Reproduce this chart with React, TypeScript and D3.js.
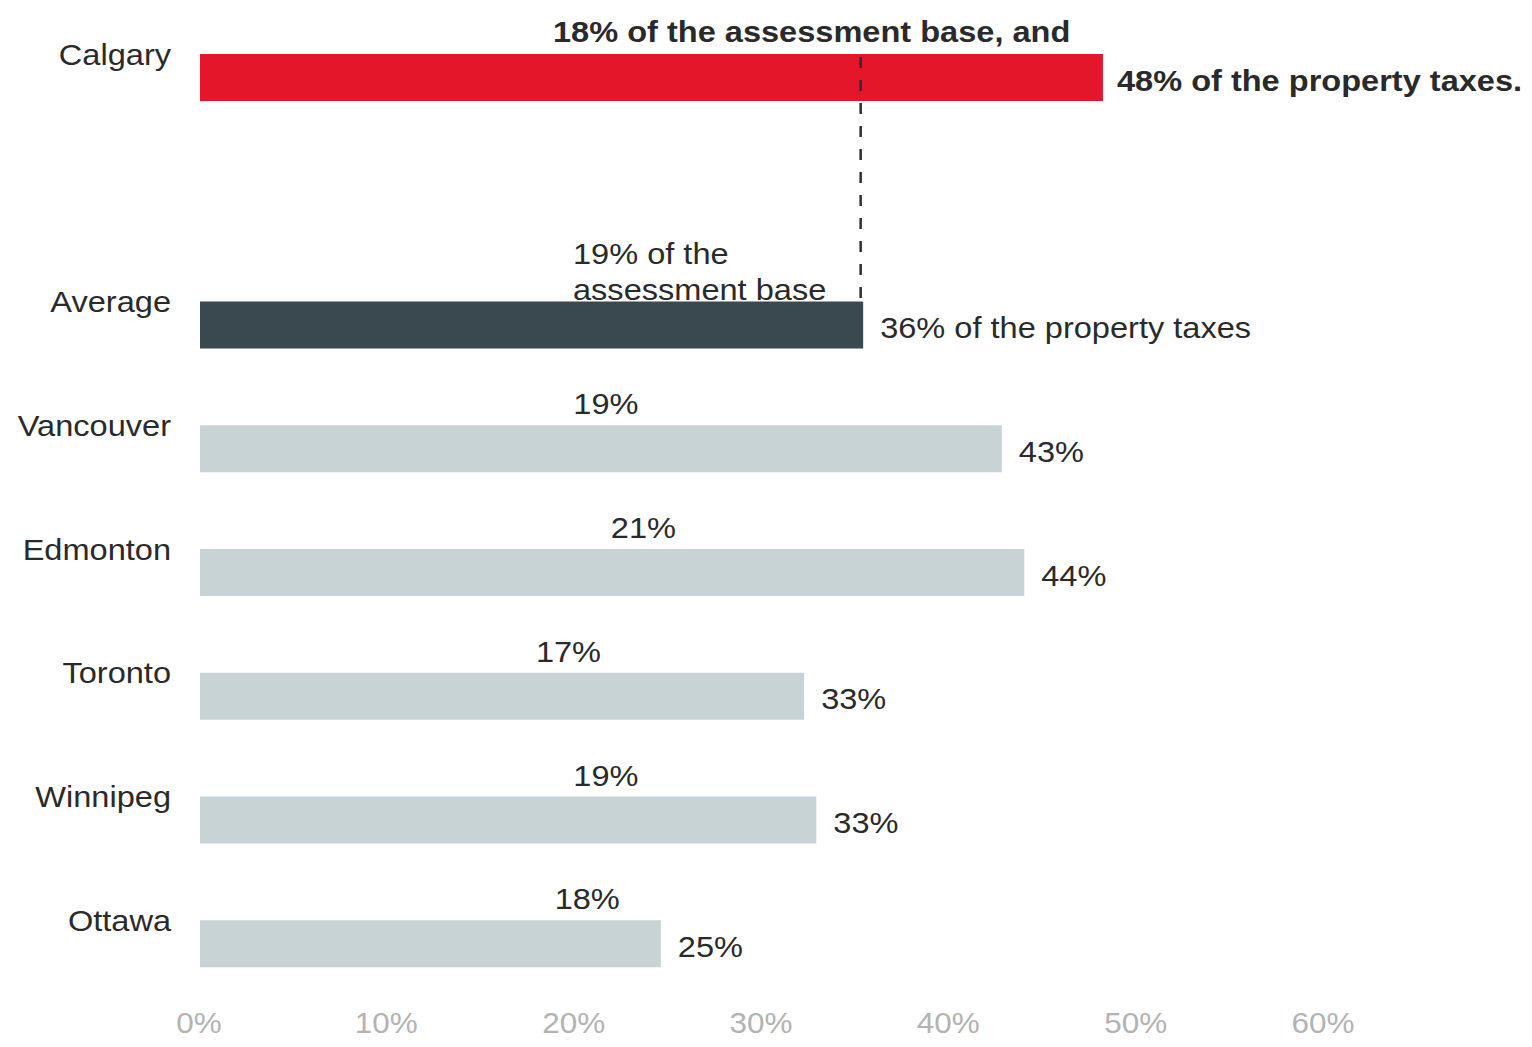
import React from "react";
import * as d3 from "d3";

const slots = ["Calgary", "__gap", "Average", "Vancouver", "Edmonton", "Toronto", "Winnipeg", "Ottawa"];
const cities = ["Calgary", "Average", "Vancouver", "Edmonton", "Toronto", "Winnipeg", "Ottawa"];
const taxShare = [48.2, 35.4, 42.8, 44.0, 32.25, 32.9, 24.6];
const taxLabels = ["48%", "36%", "43%", "44%", "33%", "33%", "25%"];
const baseShare = [18, 19, 19, 21, 17, 19, 18];
const baseLabels = ["18%", "19%", "19%", "21%", "17%", "19%", "18%"];
const xTicks = [0, 10, 20, 30, 40, 50, 60];

const W = 1532;
const H = 1047;
const FONT = "'Liberation Sans', Arial, sans-serif";
const TEXT = "#2a2a2a";
const SX = 1.085;

type TProps = {
  x: number;
  y: number;
  anchor?: "start" | "middle" | "end";
  size?: number;
  bold?: boolean;
  fill?: string;
  children: React.ReactNode;
};

function T({ x, y, anchor = "start", size = 30, bold = false, fill = TEXT, children }: TProps) {
  return (
    <text
      transform={`translate(${x},${y}) scale(${SX},1)`}
      textAnchor={anchor}
      fontSize={size}
      fontWeight={bold ? "bold" : "normal"}
      fill={fill}
    >
      {children}
    </text>
  );
}

export default function App() {
  const x = d3.scaleLinear().domain([0, 60]).range([200, 1324]);
  const step = 123.75;
  const y = d3
    .scaleBand<string>()
    .domain(slots)
    .paddingInner(0.62)
    .paddingOuter(0)
    .range([54, 54 + step * (slots.length - 0.62)]);
  const bw = y.bandwidth();

  const color = (c: string) => (c === "Calgary" ? "#E3162A" : c === "Average" ? "#3A4950" : "#C8D3D6");

  const calTop = y("Calgary")!;
  const avgTop = y("Average")!;
  const avgIdx = cities.indexOf("Average");
  const calIdx = cities.indexOf("Calgary");

  return (
    <svg width={W} height={H} style={{ position: "absolute", left: 0, top: 0, background: "#fff" }} fontFamily={FONT}>
      {cities.map((c, i) => {
        const top = y(c)!;
        return (
          <g key={c}>
            <rect x={x(0)} y={top} width={x(taxShare[i]) - x(0)} height={bw} fill={color(c)} />
            <T x={171} y={top + 10.5} anchor="end">
              {c}
            </T>
          </g>
        );
      })}

      {/* dashed reference line at the average */}
      <line
        x1={x(taxShare[avgIdx]) - 2.5}
        x2={x(taxShare[avgIdx]) - 2.5}
        y1={calTop + 3}
        y2={avgTop}
        stroke="#2e2e2e"
        strokeWidth={2.5}
        strokeDasharray="11 12"
      />

      {/* Calgary annotations */}
      <T x={553} y={calTop - 12} bold>
        {baseLabels[calIdx]} of the assessment base, and
      </T>
      <T x={x(taxShare[calIdx]) + 14} y={calTop + bw / 2 + 13} bold>
        {taxLabels[calIdx]} of the property taxes.
      </T>

      {/* Average annotations */}
      <T x={573} y={avgTop - 38}>
        {baseLabels[avgIdx]} of the
      </T>
      <T x={573} y={avgTop - 2}>
        assessment base
      </T>
      <T x={x(taxShare[avgIdx]) + 17} y={avgTop + bw / 2 + 13}>
        {taxLabels[avgIdx]} of the property taxes
      </T>

      {/* other cities */}
      {cities.map((c, i) => {
        if (c === "Calgary" || c === "Average") return null;
        const top = y(c)!;
        return (
          <g key={"l" + c}>
            <T x={x(baseShare[i]) + 50} y={top - 11} anchor="middle">
              {baseLabels[i]}
            </T>
            <T x={x(taxShare[i]) + 17} y={top + bw / 2 + 13}>
              {taxLabels[i]}
            </T>
          </g>
        );
      })}

      {/* x axis tick labels */}
      {xTicks.map((t) => (
        <T key={t} x={x(t) - 1} y={1033} anchor="middle" size={29} fill="#b3b3b3">
          {t}%
        </T>
      ))}
    </svg>
  );
}
